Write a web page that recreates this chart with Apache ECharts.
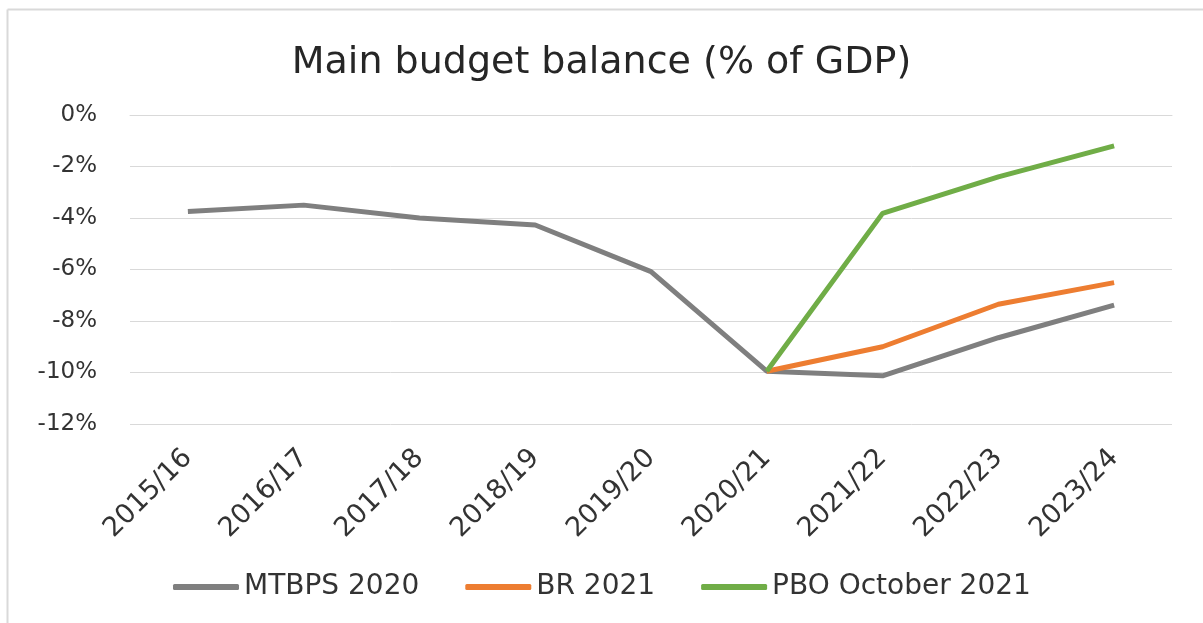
<!DOCTYPE html>
<html>
<head>
<meta charset="utf-8">
<script src="https://cdn.jsdelivr.net/npm/echarts@6/dist/echarts.min.js"></script>
<style>
html,body{margin:0;padding:0;background:#fff;}
#c{width:1203px;height:623px;}
</style>
</head>
<body>
<div id="c"></div>
<script>
const categories = ['2015/16','2016/17','2017/18','2018/19','2019/20','2020/21','2021/22','2022/23','2023/24'];
const mtbps2020 = [-3.75, -3.5, -4.0, -4.27, -6.08, -9.95, -10.13, -8.65, -7.38];
const br2021 = [null, null, null, null, null, -9.95, -9.0, -7.35, -6.51];
const pbo2021 = [null, null, null, null, null, -9.95, -3.82, -2.4, -1.2];
const yTicks = [0, -2, -4, -6, -8, -10, -12];

const FONT = 'DejaVu Sans';
const chart = echarts.init(document.getElementById('c'), null, {renderer: 'canvas'});
chart.setOption({
  backgroundColor: '#fff',
  animation: false,
  title: {
    text: 'Main budget balance (% of GDP)',
    left: 'center',
    top: 39,
    textStyle: {fontFamily: FONT, fontSize: 38, fontWeight: 'normal', color: '#262626'}
  },
  graphic: [
    {type: 'line', shape: {x1: 7.5, y1: 9.5, x2: 7.5, y2: 623}, style: {stroke: '#d9d9d9', lineWidth: 2}},
    {type: 'line', shape: {x1: 7.5, y1: 9.5, x2: 1203, y2: 9.5}, style: {stroke: '#d9d9d9', lineWidth: 2}}
  ],
  grid: {left: 130, right: 31, top: 115, bottom: 199, containLabel: false},
  xAxis: {
    type: 'category',
    data: categories,
    boundaryGap: true,
    axisLine: {show: true, lineStyle: {color: '#d9d9d9', width: 1}},
    axisTick: {show: false},
    axisLabel: {rotate: 45, fontFamily: FONT, fontSize: 27, color: '#333', margin: 30}
  },
  yAxis: {
    type: 'value',
    min: -12, max: 0, interval: 2,
    axisLine: {show: false},
    axisTick: {show: false},
    splitLine: {lineStyle: {color: '#d9d9d9', width: 1}},
    axisLabel: {fontFamily: FONT, fontSize: 23, color: '#333', margin: 33,
      formatter: v => (yTicks.indexOf(v) >= 0 ? v + '%' : '')}
  },
  legend: {
    bottom: 17,
    left: 168,
    itemWidth: 66,
    itemHeight: 6,
    itemGap: 46,
    icon: 'roundRect',
    textStyle: {fontFamily: FONT, fontSize: 28, color: '#333'},
    data: ['MTBPS 2020', 'BR 2021', 'PBO October 2021']
  },
  series: [
    {name: 'MTBPS 2020', type: 'line', data: mtbps2020, symbol: 'none', smooth: false,
      lineStyle: {color: '#7f7f7f', width: 5}, itemStyle: {color: '#7f7f7f'}, z: 1},
    {name: 'BR 2021', type: 'line', data: br2021, symbol: 'none',
      lineStyle: {color: '#ed7d31', width: 5}, itemStyle: {color: '#ed7d31'}, z: 2},
    {name: 'PBO October 2021', type: 'line', data: pbo2021, symbol: 'none',
      lineStyle: {color: '#70ad47', width: 5}, itemStyle: {color: '#70ad47'}, z: 3}
  ]
});
</script>
</body>
</html>
